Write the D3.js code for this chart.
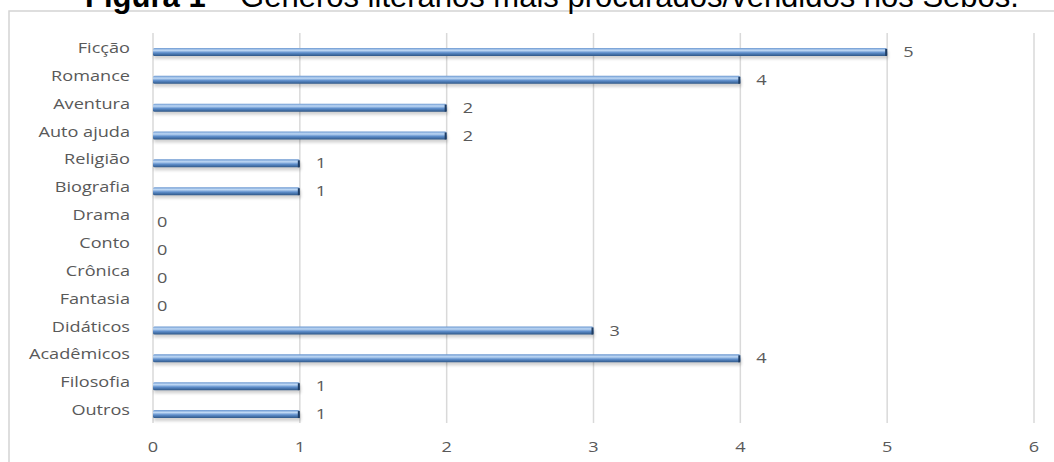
<!DOCTYPE html>
<html>
<head>
<meta charset="utf-8">
<script src="https://cdn.jsdelivr.net/npm/d3@7"></script>
<style>
  html, body { margin: 0; padding: 0; background: #fff; }
  svg { display: block; }
</style>
</head>
<body>
<svg id="chart" width="1054" height="462"></svg>
<script>
      const categories = ["Ficção", "Romance", "Aventura", "Auto ajuda", "Religião", "Biografia", "Drama", "Conto", "Crônica", "Fantasia", "Didáticos", "Acadêmicos", "Filosofia", "Outros"];
      const values = [5, 4, 2, 2, 1, 1, 0, 0, 0, 0, 3, 4, 1, 1];
      const xTicks = [0, 1, 2, 3, 4, 5, 6];
      const titleBold = "Figura 1";
      const titleRest = " – Gêneros literários mais procurados/vendidos nos Sebos.";

      const svg = d3.select("#chart");
      const defs = svg.append("defs");
      const grad = defs.append("linearGradient").attr("id", "barGrad").attr("x1", 0).attr("y1", 0).attr("x2", 0).attr("y2", 1);
      grad.append("stop").attr("offset", "0%").attr("stop-color", "#6a97d0");
      grad.append("stop").attr("offset", "30%").attr("stop-color", "#c0d9f5");
      grad.append("stop").attr("offset", "60%").attr("stop-color", "#5f8fcc");
      grad.append("stop").attr("offset", "100%").attr("stop-color", "#2e5788");
      const blur = defs.append("filter").attr("id", "shadow").attr("x", "-5%").attr("y", "-50%").attr("width", "110%").attr("height", "250%");
      blur.append("feGaussianBlur").attr("stdDeviation", 1.5);

      // frame
      svg.append("rect").attr("x", 9).attr("y", 11).attr("width", 1060).attr("height", 470)
        .attr("fill", "#fff").attr("stroke", "#d4d4d4").attr("stroke-width", 1.5);

      // title (cropped at the top, as in the source)
      const title = svg.append("text").attr("x", 552).attr("y", 7).attr("text-anchor", "middle")
        .style("font-family", "'Liberation Sans', Arial, sans-serif").style("font-size", "31px").attr("fill", "#000");
      title.append("tspan").style("font-weight", 700).text(titleBold);
      title.append("tspan").text(titleRest);

      const x = d3.scaleLinear().domain([0, 6]).range([153, 1034]);
      const y = d3.scaleBand().domain(categories).range([38, 428]);
      const gridTop = 33, gridBottom = 423;
      const sx = 1.25; // source picture is stretched horizontally
      const labelFont = (sel) => sel.attr("fill", "#595959").style("font-family", "'Open Sans', sans-serif").style("font-size", "14.5px");

      svg.append("g").selectAll("line").data(xTicks).join("line")
        .attr("x1", (d) => x(d)).attr("x2", (d) => x(d))
        .attr("y1", gridTop).attr("y2", gridBottom)
        .attr("stroke", "#d9d9d9").attr("stroke-width", 1.5);

      svg.append("g").selectAll("text").data(xTicks).join("text")
        .attr("transform", (d) => `translate(${x(d)},452) scale(${sx},1)`).attr("text-anchor", "middle")
        .call(labelFont)
        .text((d) => d);

      svg.append("g").selectAll("text").data(categories).join("text")
        .attr("transform", (d) => `translate(130,${y(d) + y.bandwidth() / 2 + 1}) scale(${sx},1)`).attr("text-anchor", "end")
        .call(labelFont)
        .text((d) => d);

      const data = categories.map((c, i) => ({ c, v: values[i] }));
      const shown = data.filter((d) => d.v > 0);
      const barH = 8;
      const bars = svg.append("g");
      bars.selectAll(".shadow").data(shown).join("rect")
        .attr("x", x(0) + 1).attr("y", (d) => y(d.c) + y.bandwidth() / 2 - barH / 2 + 3)
        .attr("width", (d) => x(d.v) - x(0)).attr("height", barH)
        .attr("fill", "#000").attr("opacity", 0.18).attr("filter", "url(#shadow)");
      bars.selectAll(".bar").data(shown).join("rect")
        .attr("x", x(0)).attr("y", (d) => y(d.c) + y.bandwidth() / 2 - barH / 2)
        .attr("width", (d) => x(d.v) - x(0)).attr("height", barH)
        .attr("rx", 1.5).attr("fill", "url(#barGrad)");
      bars.selectAll(".cap").data(shown).join("rect")
        .attr("x", (d) => x(d.v) - 2).attr("y", (d) => y(d.c) + y.bandwidth() / 2 - barH / 2 + 1)
        .attr("width", 2).attr("height", barH - 1).attr("fill", "#1f3d63");

      svg.append("g").selectAll("text").data(data).join("text")
        .attr("transform", (d) => `translate(${d.v === 0 ? x(0) + 4 : x(d.v) + 16},${y(d.c) + y.bandwidth() / 2 + (d.v === 0 ? 8 : 5)}) scale(${sx},1)`)
        .call(labelFont)
        .text((d) => d.v);
</script>
</body>
</html>
